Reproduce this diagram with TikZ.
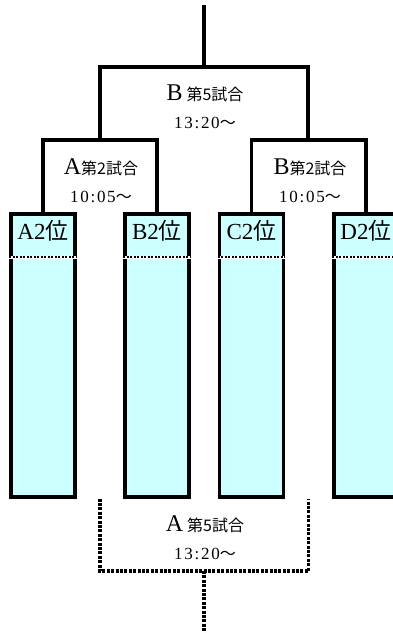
\documentclass[tikz,border=0pt]{standalone}
\usepackage{fontspec}
\setmainfont{Liberation Serif}
\newfontfamily\jpfont{Noto Sans CJK JP}
\newfontfamily\timefont[LetterSpace=10]{Liberation Serif}
\usetikzlibrary{positioning,calc}
\definecolor{teamcyan}{RGB}{204,255,255}

% match text: letter, game number, start time
\newcommand{\matchtext}[3]{{\fontsize{24}{24}\selectfont #1}{\jpfont\fontsize{16}{16}\selectfont 第#2試合}\\ {\timefont\fontsize{17}{17}\selectfont #3}{\jpfont ～}}

\begin{document}
\begin{tikzpicture}[x=1pt,y=1pt,line width=3.2pt,
	team/.style={rectangle,draw,fill=teamcyan,minimum width=64pt,minimum height=283pt,inner sep=0pt},
	teamlbl/.style={font=\fontsize{23}{24}\selectfont,inner sep=0pt},
	matchlbl/.style={align=center,font=\fontsize{16}{28}\selectfont,inner sep=0pt},
	divider/.style={line width=2pt,dash pattern=on 2pt off 1.5pt},
	dotline/.style={line width=3.2pt,dash pattern=on 3pt off 1.4pt}]
	\useasboundingbox (0,0) rectangle (393,633);
	\clip (0,0) rectangle (393,633);

	\begin{scope}
		\node[team] (A2) at (43,277.5) {};
		\node[team] (B2) at (157,277.5) {};
		\node[team] (C2) at (251.5,277.5) {};
		\node[team] (D2) at (366,277.5) {};
		\node[teamlbl,below=6pt of A2.north] (lA2) {A2{\jpfont 位}};
		\node[teamlbl,below=6pt of B2.north] (lB2) {B2{\jpfont 位}};
		\node[teamlbl,below=6pt of C2.north] (lC2) {C2{\jpfont 位}};
		\node[teamlbl,below=6pt of D2.north] (lD2) {D2{\jpfont 位}};
		\draw[white,line width=2.4pt] ([yshift=-45pt]A2.north west) -- ([yshift=-45pt]A2.north east);
		\draw[white,line width=2.4pt] ([yshift=-45pt]B2.north west) -- ([yshift=-45pt]B2.north east);
		\draw[white,line width=2.4pt] ([yshift=-45pt]C2.north west) -- ([yshift=-45pt]C2.north east);
		\draw[white,line width=2.4pt] ([yshift=-45pt]D2.north west) -- ([yshift=-45pt]D2.north east);
		\draw[divider] ([yshift=-45pt]A2.north west) -- ([yshift=-45pt]A2.north east);
		\draw[divider] ([yshift=-45pt]B2.north west) -- ([yshift=-45pt]B2.north east);
		\draw[divider] ([yshift=-45pt]C2.north west) -- ([yshift=-45pt]C2.north east);
		\draw[divider] ([yshift=-45pt]D2.north west) -- ([yshift=-45pt]D2.north east);
	\end{scope}

	% winners bracket
	\coordinate (top) at (204,628);
	\coordinate (jF) at (204,566);
	\coordinate (jA) at (100,493);
	\coordinate (jB) at (308,493);
	\draw (A2.north) |- (jA) -| (B2.north);
	\draw (C2.north) |- (jB) -| (D2.north);
	\draw (jA) |- (jF) -| (jB);
	\draw (jF) -- (top);

	% losers bracket
	\coordinate (lowL) at ($(A2.south east)!0.5!(B2.south west)$);
	\coordinate (lowR) at ($(C2.south east)!0.5!(D2.south west)$);
	\coordinate (jL) at (204,62);
	\coordinate (bot) at (204,0);
	\draw[dotline] (lowL) |- (jL) -| (lowR);
	\draw[dotline] (jL) -- (bot);

	\node[matchlbl] (mF) at (205,526) {\matchtext{B\,}{5}{13:20}};
	\node[matchlbl] (mA) at (101,452) {\matchtext{A}{2}{10:05}};
	\node[matchlbl] (mB) at (310,452) {\matchtext{B}{2}{10:05}};
	\node[matchlbl] (mL) at (205,95) {\matchtext{A\,}{5}{13:20}};
\end{tikzpicture}
\end{document}
